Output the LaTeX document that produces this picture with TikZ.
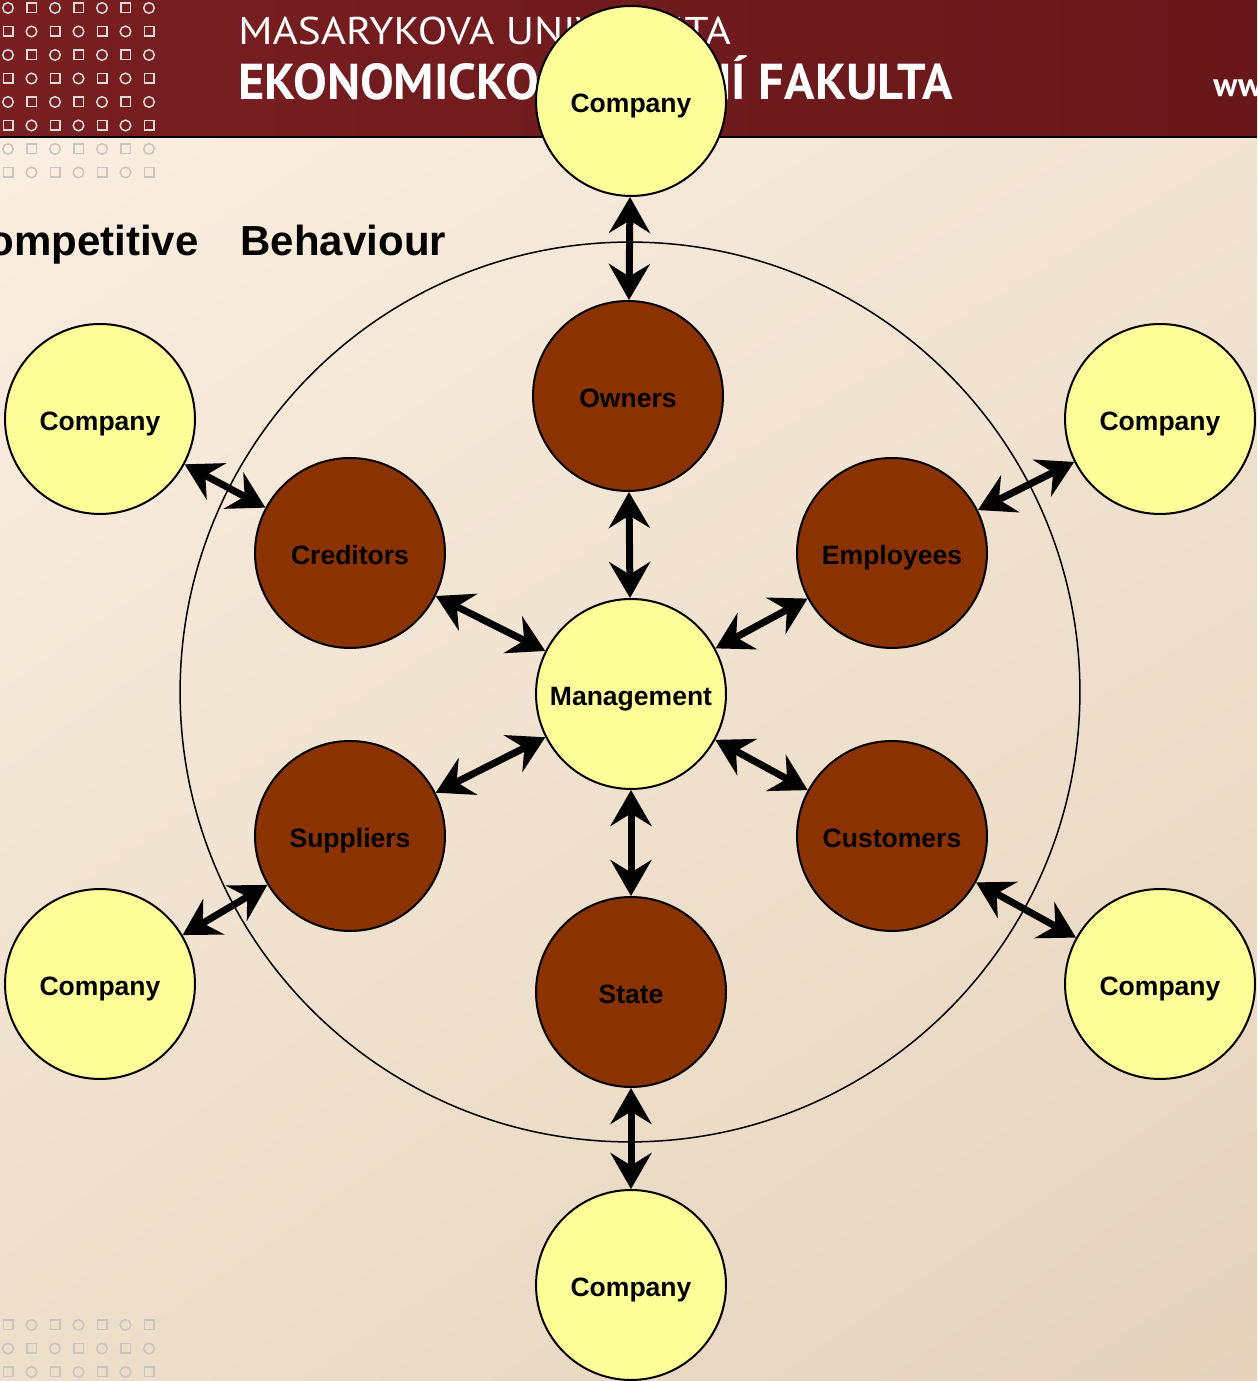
\documentclass[tikz,border=0pt]{standalone}
\usepackage{fontspec}
\setmainfont{Liberation Sans}
\newfontfamily\mufont{PT Sans}
\newfontfamily\mulight[FakeStretch=1.12]{PT Sans}
\usetikzlibrary{arrows.meta,shadings}
\definecolor{bgtl}{HTML}{FCF0E3}
\definecolor{bgtr}{HTML}{F4E6D6}
\definecolor{bgbl}{HTML}{EEDFCB}
\definecolor{bgbr}{HTML}{E5D3BC}
\definecolor{hdl}{HTML}{781E21}
\definecolor{hdr}{HTML}{68181A}
\definecolor{compyel}{HTML}{FFFF99}
\definecolor{stakebrn}{HTML}{8B3300}
\definecolor{patgray}{HTML}{C9C5C0}

\begin{document}
\begin{tikzpicture}[x=0.02cm,y=0.02cm,
  comp/.style={circle,draw=black,line width=0.04cm,fill=compyel,minimum size=3.8cm,
    inner sep=0pt,text height=1.55em,text depth=0.23em,font=\fontsize{15.1}{18}\selectfont\bfseries},
  stake/.style={comp,fill=stakebrn},
  link/.style={{Stealth[length=0.72cm,width=0.82cm,inset=0.25cm]}-{Stealth[length=0.72cm,width=0.82cm,inset=0.25cm]},
    line width=0.14cm},
  hdpat/.style={draw=white!72!gray,line width=0.03cm},
  bdpat/.style={draw=patgray,line width=0.03cm}]
 \useasboundingbox (0,0) rectangle (1257,1381);
 \clip (0,0) rectangle (1257,1381);
 % background and header band
 \shade[upper left=bgtl,upper right=bgtr,lower left=bgbl,lower right=bgbr] (0,0) rectangle (1257,1381);
 \shade[left color=hdl,right color=hdr] (0,1244) rectangle (1257,1381);
 \draw[line width=0.04cm] (0,1244)--(1257,1244);
 % dot pattern
 \foreach \i in {0,...,6}{
  \foreach \j in {0,...,7}{
   \ifnum\j<6 \def\pst{hdpat}\else\def\pst{bdpat}\fi
   \ifodd\numexpr\i+\j\relax
    \draw[\pst] (8+23.5*\i-4.75,1373-23.5*\j-4.75) rectangle ++(9.5,9.5);
   \else
    \draw[\pst] (8+23.5*\i,1373-23.5*\j) circle[radius=0.106cm];
   \fi
  }
  \foreach \k in {0,1,2}{
   \ifodd\numexpr\i+\k\relax
    \draw[bdpat] (8+23.5*\i,56-23.5*\k) circle[radius=0.106cm];
   \else
    \draw[bdpat] (8+23.5*\i-4.75,56-23.5*\k-4.75) rectangle ++(9.5,9.5);
   \fi
  }
 }
 \node[anchor=base west,inner sep=0pt,text=white,font=\mulight\fontsize{22}{26}\selectfont] (uni) at (238,1336) {MASARYKOVA UNIVERZITA};
 \node[anchor=base west,inner sep=0pt,text=white,font=\mufont\bfseries\fontsize{28.7}{32}\selectfont] (fac) at (238,1281) {EKONOMICKO-SPRÁVNÍ FAKULTA};
 \node[anchor=base west,inner sep=0pt,text=white,font=\mufont\bfseries\fontsize{19}{22}\selectfont] (web) at (1213,1284) {www.econ.muni.cz};
 \node[anchor=base west,inner sep=0pt,font=\bfseries\fontsize{23.9}{28}\selectfont] (title) at (-42,1125) {Competitive\hspace{0.84cm}Behaviour};
 % outer ring
 \draw[line width=0.03cm] (630,689) circle[radius=9cm];
 % circles
 \node[comp] (cT) at (631,1280) {Company};
 \node[stake] (own) at (628,985) {Owners};
 \node[stake] (cred) at (350,828) {Creditors};
 \node[stake] (empl) at (892,828) {Employees};
 \node[comp] (mgmt) at (631,687) {Management};
 \node[stake] (supp) at (350,545) {Suppliers};
 \node[stake] (cust) at (892,545) {Customers};
 \node[stake] (state) at (631,389) {State};
 \node[comp] (cB) at (631,96) {Company};
 \node[comp] (cUL) at (100,962) {Company};
 \node[comp] (cUR) at (1160,962) {Company};
 \node[comp] (cLL) at (100,397) {Company};
 \node[comp] (cLR) at (1160,397) {Company};
 % links
 \draw[link] (cT)--(own);
 \draw[link] (own)--(mgmt);
 \draw[link] (cUL)--(cred);
 \draw[link] (cred)--(mgmt);
 \draw[link] (empl)--(mgmt);
 \draw[link] (empl)--(cUR);
 \draw[link] (mgmt)--(cust);
 \draw[link] (cust)--(cLR);
 \draw[link] (mgmt)--(supp);
 \draw[link] (supp)--(cLL);
 \draw[link] (mgmt)--(state);
 \draw[link] (state)--(cB);
\end{tikzpicture}
\end{document}
